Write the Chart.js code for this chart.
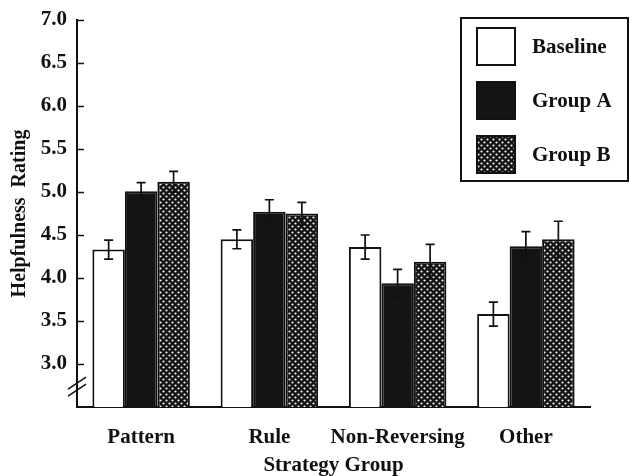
<!DOCTYPE html>
<html>
<head>
<meta charset="utf-8">
<script src="https://cdn.jsdelivr.net/npm/chart.js@4.4.1/dist/chart.umd.min.js"></script>
<style>
  html, body { margin: 0; padding: 0; background: #fff; }
  canvas { display: block; }
</style>
</head>
<body>
<canvas id="helpChart" width="630" height="476"></canvas>
<script>
// values
const categories = ["Pattern", "Rule", "Non-Reversing", "Other"];
const baseline = [4.33, 4.45, 4.36, 3.58];
const groupA = [5.01, 4.77, 3.94, 4.37];
const groupB = [5.12, 4.75, 4.19, 4.45];
const baselineErr = [0.11, 0.11, 0.14, 0.14];
const groupAErr = [0.10, 0.14, 0.16, 0.17];
const groupBErr = [0.12, 0.13, 0.20, 0.21];
const yTicks = [3.0, 3.5, 4.0, 4.5, 5.0, 5.5, 6.0, 6.5, 7.0];

const FONT = "'Liberation Serif', 'Times New Roman', serif";
const INK = "#111";

// cross-hatch fill for Group B
function makeHatch() {
  const c = document.createElement("canvas");
  c.width = 6;
  c.height = 6;
  const g = c.getContext("2d");
  g.fillStyle = "#141414";
  g.fillRect(0, 0, 6, 6);
  g.fillStyle = "#f2f2f2";
  [[1.5, 1.5], [4.5, 4.5]].forEach(([x, y]) => {
    g.beginPath();
    g.arc(x, y, 1.1, 0, Math.PI * 2);
    g.fill();
  });
  return document.getElementById("helpChart").getContext("2d").createPattern(c, "repeat");
}
const hatch = makeHatch();

const errors = [baselineErr, groupAErr, groupBErr];

// error bars, drawn from the bar elements and the y scale
const errorBars = {
  id: "errorBars",
  afterDatasetsDraw(chart) {
    const ctx = chart.ctx;
    const y = chart.scales.y;
    ctx.save();
    ctx.strokeStyle = INK;
    ctx.lineWidth = 1.7;
    chart.data.datasets.forEach((ds, di) => {
      const meta = chart.getDatasetMeta(di);
      meta.data.forEach((bar, i) => {
        const v = ds.data[i];
        const e = errors[di][i];
        const top = y.getPixelForValue(v + e);
        const bot = y.getPixelForValue(v - e);
        ctx.beginPath();
        ctx.moveTo(bar.x, top);
        ctx.lineTo(bar.x, bot);
        ctx.moveTo(bar.x - 4.5, top);
        ctx.lineTo(bar.x + 4.5, top);
        ctx.moveTo(bar.x - 4.5, bot);
        ctx.lineTo(bar.x + 4.5, bot);
        ctx.stroke();
      });
    });
    ctx.restore();
  },
};

// inward tick marks, axis break and the boxed legend
const axisExtras = {
  id: "axisExtras",
  afterDraw(chart) {
    const ctx = chart.ctx;
    const y = chart.scales.y;
    const left = chart.chartArea.left;
    ctx.save();
    ctx.strokeStyle = INK;
    ctx.lineWidth = 1.5;
    yTicks.forEach(v => {
      const py = Math.round(y.getPixelForValue(v)) + 0.5;
      ctx.beginPath();
      ctx.moveTo(left, py);
      ctx.lineTo(left + 7, py);
      ctx.stroke();
    });
    // break marks on the axis
    const by = y.getPixelForValue(2.73);
    [-4, 3].forEach(off => {
      ctx.beginPath();
      ctx.moveTo(left - 9, by + off + 6);
      ctx.lineTo(left + 9, by + off - 6);
      ctx.stroke();
    });

    // legend box
    const bx = 461, byTop = 18, bw = 167, bh = 163;
    ctx.lineWidth = 2;
    ctx.strokeRect(bx, byTop, bw, bh);
    ctx.font = "bold 21px " + FONT;
    ctx.textBaseline = "middle";
    ctx.textAlign = "left";
    chart.data.datasets.forEach((ds, i) => {
      const sy = 28 + i * 54;
      ctx.fillStyle = ds.backgroundColor;
      ctx.fillRect(477, sy, 38, 37);
      ctx.lineWidth = 2;
      ctx.strokeRect(477, sy, 38, 37);
      ctx.fillStyle = INK;
      ctx.fillText(ds.label, 532, sy + 20);
    });
    ctx.restore();
  },
};

const barStyle = {
  borderColor: INK,
  borderWidth: 2,
  borderSkipped: "bottom",
  base: 2.5,
  categoryPercentage: 0.76,
  barPercentage: 1.0,
};

new Chart(document.getElementById("helpChart"), {
  type: "bar",
  data: {
    labels: categories,
    datasets: [
      { label: "Baseline", data: baseline, backgroundColor: "#ffffff", ...barStyle },
      { label: "Group A", data: groupA, backgroundColor: "#141414", ...barStyle },
      { label: "Group B", data: groupB, backgroundColor: hatch, ...barStyle },
    ],
  },
  options: {
    responsive: false,
    animation: false,
    layout: { padding: { top: 20, right: 40, bottom: 0, left: 0 } },
    plugins: {
      legend: { display: false },
      tooltip: { enabled: false },
    },
    scales: {
      x: {
        grid: { display: false },
        border: { display: true, color: INK, width: 2 },
        ticks: {
          color: INK,
          padding: 10,
          autoSkip: false,
          maxRotation: 0,
          font: { family: FONT, size: 21, weight: "bold" },
        },
        title: {
          display: true,
          text: "Strategy Group",
          color: INK,
          padding: { top: 0, bottom: 0 },
          font: { family: FONT, size: 21, weight: "bold", lineHeight: 1 },
        },
        afterFit(scale) { scale.height = 69; },
      },
      y: {
        min: 2.5,
        max: 7.0,
        grid: { display: false },
        border: { display: true, color: INK, width: 2 },
        afterBuildTicks(scale) {
          scale.ticks = yTicks.map(v => ({ value: v }));
        },
        ticks: {
          color: INK,
          padding: 2,
          callback: v => Number(v).toFixed(1),
          font: { family: FONT, size: 21, weight: "bold" },
        },
        title: {
          display: true,
          text: "Helpfulness  Rating",
          color: INK,
          padding: { top: 10, bottom: 0 },
          font: { family: FONT, size: 20, weight: "bold", lineHeight: 1 },
        },
        afterFit(scale) { scale.width = 77; },
      },
    },
  },
  plugins: [errorBars, axisExtras],
});
</script>
</body>
</html>
